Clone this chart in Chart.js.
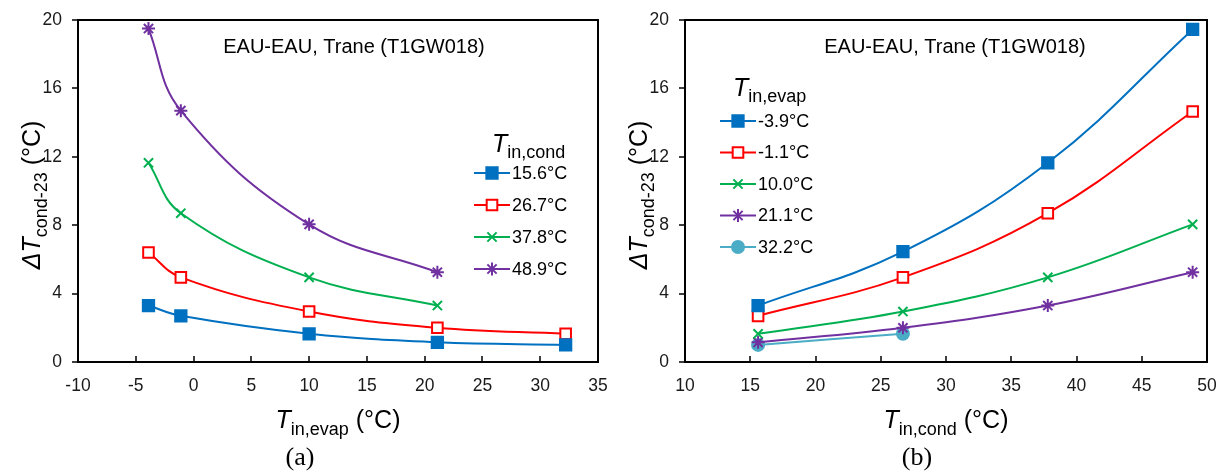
<!DOCTYPE html>
<html>
<head>
  <title>EAU-EAU, Trane (T1GW018)</title>
  <script src="https://cdn.jsdelivr.net/npm/chart.js"></script>
  <style>
    body { margin: 0; background: #fff; width: 1217px; height: 472px; overflow: hidden; position: relative; }
    .panel { position: absolute; top: 0; width: 610px; height: 472px; }
  </style>
</head>
<body>
  <div class="panel" style="left:0"><canvas id="chartA" width="610" height="472"></canvas></div>
  <div class="panel" style="left:607px"><canvas id="chartB" width="610" height="472"></canvas></div>

  <script>
    // x values
    const evapTemps = [-3.9, -1.1, 10.0, 21.1, 32.2];
    const condTemps = [15.6, 26.7, 37.8, 48.9];
    const condLabels = ['15.6°C', '26.7°C', '37.8°C', '48.9°C'];
    const evapLabels = ['-3.9°C', '-1.1°C', '10.0°C', '21.1°C', '32.2°C'];

    // (a) dT vs T_in,evap, one series per T_in,cond
    const cond156 = [3.3, 2.7, 1.65, 1.15, 1.0];
    const cond267 = [6.4, 4.95, 2.95, 2.0, 1.65];
    const cond378 = [11.65, 8.7, 4.95, 3.3];
    const cond489 = [19.5, 14.7, 8.05, 5.25];

    // (b) dT vs T_in,cond, one series per T_in,evap
    const evapM39 = [3.3, 6.45, 11.65, 19.45];
    const evapM11 = [2.7, 4.95, 8.7, 14.65];
    const evap100 = [1.65, 2.95, 4.95, 8.05];
    const evap211 = [1.15, 2.0, 3.3, 5.25];
    const evap322 = [1.0, 1.65];

    const BLUE = '#0070C0', RED = '#FF0000', GREEN = '#00B050', PURPLE = '#7030A0', TEAL = '#4BACC6';
    const SANS = '"Liberation Sans", Arial, sans-serif';
    const SERIF = '"Liberation Serif", "Times New Roman", serif';

    // marker looks, shared by both panels
    const markers = [
      { color: BLUE, style: 'rect', radius: 8, fill: BLUE },
      { color: RED, style: 'rect', radius: 7.5, fill: '#fff' },
      { color: GREEN, style: 'crossRot', radius: 6.5, fill: GREEN },
      { color: PURPLE, style: 'star', radius: 6.5, fill: PURPLE },
      { color: TEAL, style: 'circle', radius: 6, fill: TEAL }
    ];

    function makeSet(label, xs, ys, m) {
      return {
        label: label,
        data: ys.map((y, i) => ({ x: xs[i], y: y })),
        borderColor: m.color,
        backgroundColor: m.fill,
        borderWidth: 2,
        tension: 0.4,
        pointStyle: m.style,
        pointRadius: m.radius,
        pointBorderWidth: 2,
        pointBorderColor: m.color,
        pointBackgroundColor: m.fill
      };
    }

    function drawMarker(ctx, m, x, y) {
      const r = m.radius;
      ctx.save();
      ctx.strokeStyle = m.color;
      ctx.fillStyle = m.fill;
      ctx.lineWidth = 2;
      ctx.beginPath();
      if (m.style === 'rect') {
        const s = r * Math.SQRT1_2;
        ctx.rect(x - s, y - s, 2 * s, 2 * s);
        ctx.fill(); ctx.stroke();
      } else if (m.style === 'circle') {
        ctx.arc(x, y, r, 0, Math.PI * 2);
        ctx.fill(); ctx.stroke();
      } else {
        const d = r * Math.SQRT1_2;
        ctx.moveTo(x - d, y - d); ctx.lineTo(x + d, y + d);
        ctx.moveTo(x - d, y + d); ctx.lineTo(x + d, y - d);
        if (m.style === 'star') { ctx.moveTo(x, y - r); ctx.lineTo(x, y + r); }
        ctx.stroke();
      }
      ctx.restore();
    }

    // text made of pieces (for subscripts)
    function drawRich(ctx, parts, x, y, align) {
      let w = 0;
      parts.forEach(p => { ctx.font = p.font; w += ctx.measureText(p.t).width; });
      let cx = align === 'center' ? x - w / 2 : x;
      ctx.textAlign = 'left';
      ctx.textBaseline = 'alphabetic';
      parts.forEach(p => {
        ctx.font = p.font;
        ctx.fillText(p.t, cx, y + (p.dy || 0));
        cx += ctx.measureText(p.t).width;
      });
    }

    const big = 'italic 25px ' + SANS;
    const bigUp = '25px ' + SANS;
    const sub = '18px ' + SANS;

    function decorPlugin(cfg) {
      return {
        id: 'decor',
        afterDraw(chart) {
          const ctx = chart.ctx;
          const a = chart.chartArea;
          const xs = chart.scales.x, ys = chart.scales.y;
          ctx.save();
          ctx.strokeStyle = '#000';
          ctx.lineWidth = 2;
          ctx.strokeRect(a.left, a.top, a.right - a.left, a.bottom - a.top);
          ctx.lineWidth = 1.5;
          ctx.beginPath();
          xs.ticks.forEach(t => {
            const px = Math.round(xs.getPixelForValue(t.value));
            ctx.moveTo(px, a.bottom); ctx.lineTo(px, a.bottom - 6);
          });
          ys.ticks.forEach(t => {
            const py = Math.round(ys.getPixelForValue(t.value));
            ctx.moveTo(a.left, py); ctx.lineTo(a.left - 6, py);
          });
          ctx.stroke();

          ctx.fillStyle = '#000';
          // note inside the plot
          ctx.font = '20px ' + SANS;
          ctx.textAlign = 'center';
          ctx.fillText('EAU-EAU, Trane (T1GW018)', cfg.noteX, 53);

          // legend
          drawRich(ctx, [
            { t: 'T', font: big },
            { t: cfg.legendSub, font: sub, dy: 6 }
          ], cfg.legX + cfg.titleIndent, cfg.legY, 'left');
          cfg.labels.forEach((lab, i) => {
            const m = markers[i];
            const ly = cfg.firstY + i * cfg.stepY;
            ctx.strokeStyle = m.color;
            ctx.lineWidth = 2;
            ctx.beginPath();
            ctx.moveTo(cfg.legX, ly); ctx.lineTo(cfg.legX + 36, ly);
            ctx.stroke();
            drawMarker(ctx, m, cfg.legX + 18, ly);
            ctx.fillStyle = '#000';
            ctx.font = '18px ' + SANS;
            ctx.textAlign = 'left';
            ctx.textBaseline = 'middle';
            ctx.fillText(lab, cfg.legX + 38, ly + 1);
          });

          // x title
          drawRich(ctx, [
            { t: 'T', font: big },
            { t: cfg.xSub, font: sub, dy: 7 },
            { t: ' (°C)', font: bigUp }
          ], (a.left + a.right) / 2, 428, 'center');

          // y title, rotated
          ctx.save();
          ctx.translate(40, (a.top + a.bottom) / 2 + 4);
          ctx.rotate(-Math.PI / 2);
          drawRich(ctx, [
            { t: 'ΔT', font: big },
            { t: 'cond-23', font: sub, dy: 7 },
            { t: ' (°C)', font: bigUp }
          ], 0, 0, 'center');
          ctx.restore();

          // panel letter
          ctx.font = '26px ' + SERIF;
          ctx.textAlign = 'center';
          ctx.textBaseline = 'alphabetic';
          ctx.fillText(cfg.letter, cfg.letterX, 465);
          ctx.restore();
        }
      };
    }

    function makeChart(id, sets, xMin, xMax, cfg) {
      return new Chart(document.getElementById(id).getContext('2d'), {
        type: 'line',
        data: { datasets: sets },
        options: {
          responsive: false,
          animation: false,
          layout: { padding: { left: 0, right: cfg.padRight, top: 20, bottom: 0 } },
          plugins: { legend: { display: false }, tooltip: { enabled: false } },
          scales: {
            x: {
              type: 'linear', min: xMin, max: xMax,
              grid: { display: true, drawOnChartArea: false, color: 'rgba(0,0,0,0)', tickLength: 5 },
              border: { display: false },
              ticks: { stepSize: 5, padding: 9, color: '#1a1a1a', font: { family: SANS, size: 17.5 } },
              afterFit(s) { s.height = 110; s.paddingLeft = 0; s.paddingRight = 0; }
            },
            y: {
              min: 0, max: 20,
              grid: { display: true, drawOnChartArea: false, color: 'rgba(0,0,0,0)', tickLength: 5 },
              border: { display: false },
              ticks: { stepSize: 4, padding: 11, color: '#1a1a1a', font: { family: SANS, size: 17.5 } },
              afterFit(s) { s.width = 78; s.paddingTop = 0; s.paddingBottom = 0; }
            }
          }
        },
        plugins: [decorPlugin(cfg)]
      });
    }

    makeChart('chartA', [
      makeSet(condLabels[0], evapTemps, cond156, markers[0]),
      makeSet(condLabels[1], evapTemps, cond267, markers[1]),
      makeSet(condLabels[2], evapTemps, cond378, markers[2]),
      makeSet(condLabels[3], evapTemps, cond489, markers[3])
    ], -10, 35, {
      padRight: 12, noteX: 354, legX: 474, titleIndent: 18, legY: 152, firstY: 173, stepY: 32,
      labels: condLabels, legendSub: 'in,cond', xSub: 'in,evap', letter: '(a)', letterX: 300
    });

    makeChart('chartB', [
      makeSet(evapLabels[0], condTemps, evapM39, markers[0]),
      makeSet(evapLabels[1], condTemps, evapM11, markers[1]),
      makeSet(evapLabels[2], condTemps, evap100, markers[2]),
      makeSet(evapLabels[3], condTemps, evap211, markers[3]),
      makeSet(evapLabels[4], condTemps, evap322, markers[4])
    ], 10, 50, {
      padRight: 10, noteX: 348, legX: 113, titleIndent: 13, legY: 96, firstY: 121, stepY: 31.5,
      labels: evapLabels, legendSub: 'in,evap', xSub: 'in,cond', letter: '(b)', letterX: 310
    });
  </script>
</body>
</html>
